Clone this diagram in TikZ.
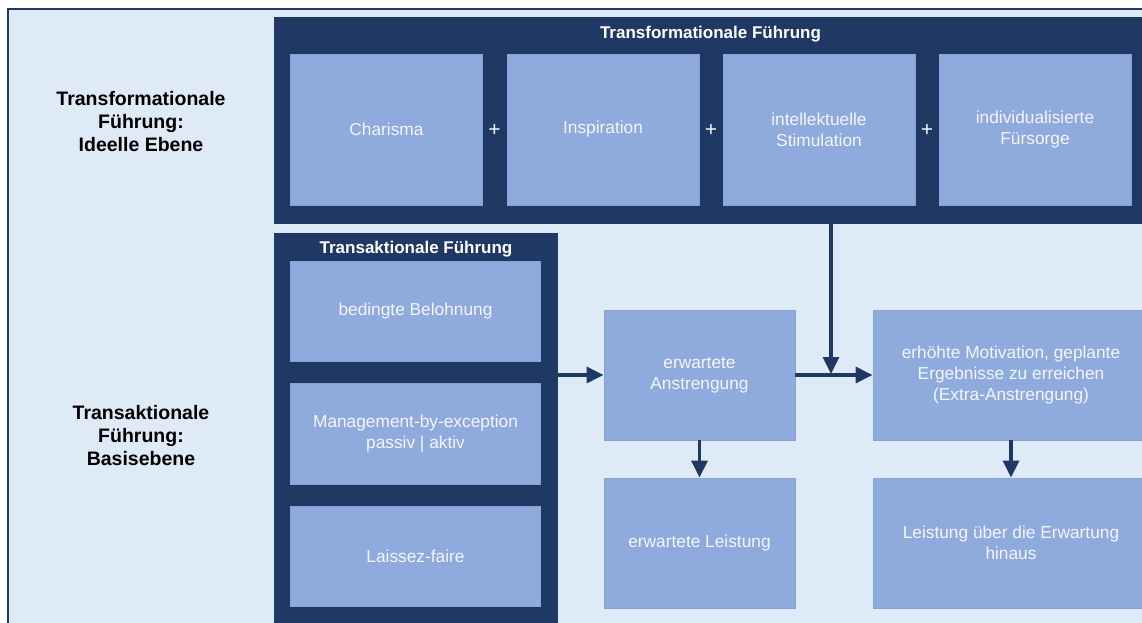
\documentclass[tikz,border=0pt]{standalone}
\usepackage{fontspec}
\setmainfont{Liberation Sans}
\usetikzlibrary{arrows.meta}
\definecolor{navy}{HTML}{203864}
\definecolor{boxblue}{HTML}{8FAADC}
\definecolor{boxedge}{HTML}{86A2D6}
\definecolor{bgblue}{HTML}{DEEAF6}
\definecolor{txt}{HTML}{F4F6FB}
\tikzset{
  frame/.style={fill=navy, draw=none, inner sep=0pt},
  item/.style={fill=boxblue, draw=boxedge, line width=0.8pt, inner sep=2pt, align=center,
    text=txt, font=\fontsize{17.3}{21}\selectfont},
  ttl/.style={text=white, font=\bfseries\fontsize{17}{20}\selectfont, inner sep=0pt},
  lbl/.style={text=black, font=\bfseries\fontsize{19.5}{23}\selectfont, align=center, inner sep=0pt},
  plus/.style={text=txt, font=\fontsize{21}{24}\selectfont, inner sep=0pt},
  arr/.style={navy, line width=3.2pt, -{Triangle[length=17pt,width=16pt]}}
}
\begin{document}
\begin{tikzpicture}[x=1pt,y=-1pt]
\useasboundingbox (0,0) rectangle (1142,623);
\begin{scope}
\clip (0,0) rectangle (1142,623);
% background panel
\fill[bgblue] (8,9) rectangle (1150,630);
\draw[navy, line width=1.6pt] (8,630) -- (8,9) -- (1150,9);
% transformational frame
\node[frame, minimum width=873pt, minimum height=207pt] (trf) at (710.5,120.5) {};
\node[ttl] (trft) at (710.5,34) {Transformationale Führung};
\node[item, minimum width=192pt, minimum height=151pt] (cha) at (386.5,129.5) {Charisma};
\node[item, minimum width=192pt, minimum height=151pt] (ins) at (603,129.5) {Inspiration};
\node[item, minimum width=192pt, minimum height=151pt] (int) at (819,129.5) {intellektuelle\\Stimulation};
\node[item, minimum width=192pt, minimum height=151pt] (ind) at (1035,129.5) {individualisierte\\Fürsorge};
\node[plus] (p1) at (494.5,130) {+};
\node[plus] (p2) at (711,130) {+};
\node[plus] (p3) at (927,130) {+};
% transactional frame
\node[frame, minimum width=284pt, minimum height=400pt] (tak) at (416,433) {};
\node[ttl] (takt) at (416,249) {Transaktionale Führung};
\node[item, minimum width=250pt, minimum height=100pt] (bel) at (415.5,311.5) {bedingte Belohnung};
\node[item, minimum width=250pt, minimum height=101pt] (mbe) at (415.5,433.5) {Management-by-exception\\passiv | aktiv};
\node[item, minimum width=250pt, minimum height=100pt] (lai) at (415.5,556) {Laissez-faire};
% right side
\node[item, minimum width=191pt, minimum height=130pt] (ea) at (699.5,375) {erwartete\\Anstrengung};
\node[item, minimum width=191pt, minimum height=130pt] (el) at (699.5,543) {erwartete Leistung};
\node[item, minimum width=276pt, minimum height=130pt] (em) at (1011,375) {erhöhte Motivation, geplante\\Ergebnisse zu erreichen\\(Extra-Anstrengung)};
\node[item, minimum width=276pt, minimum height=130pt] (elu) at (1011,543) {Leistung über die Erwartung\\hinaus};
% left labels
\node[lbl] (l1) at (141,122) {Transformationale\\Führung:\\Ideelle Ebene};
\node[lbl] (l2) at (141,436) {Transaktionale\\Führung:\\Basisebene};
% connectors
\coordinate (j) at (831,374);
\draw[arr] (tak.east |- ea.west) -- (ea.west);
\draw[arr] (ea.east) -- (em.west);
\draw[arr] (trf.south -| j) -- (j);
\draw[arr] (ea.south) -- (el.north);
\draw[arr] (em.south) -- (elu.north);
\end{scope}
\end{tikzpicture}
\end{document}
